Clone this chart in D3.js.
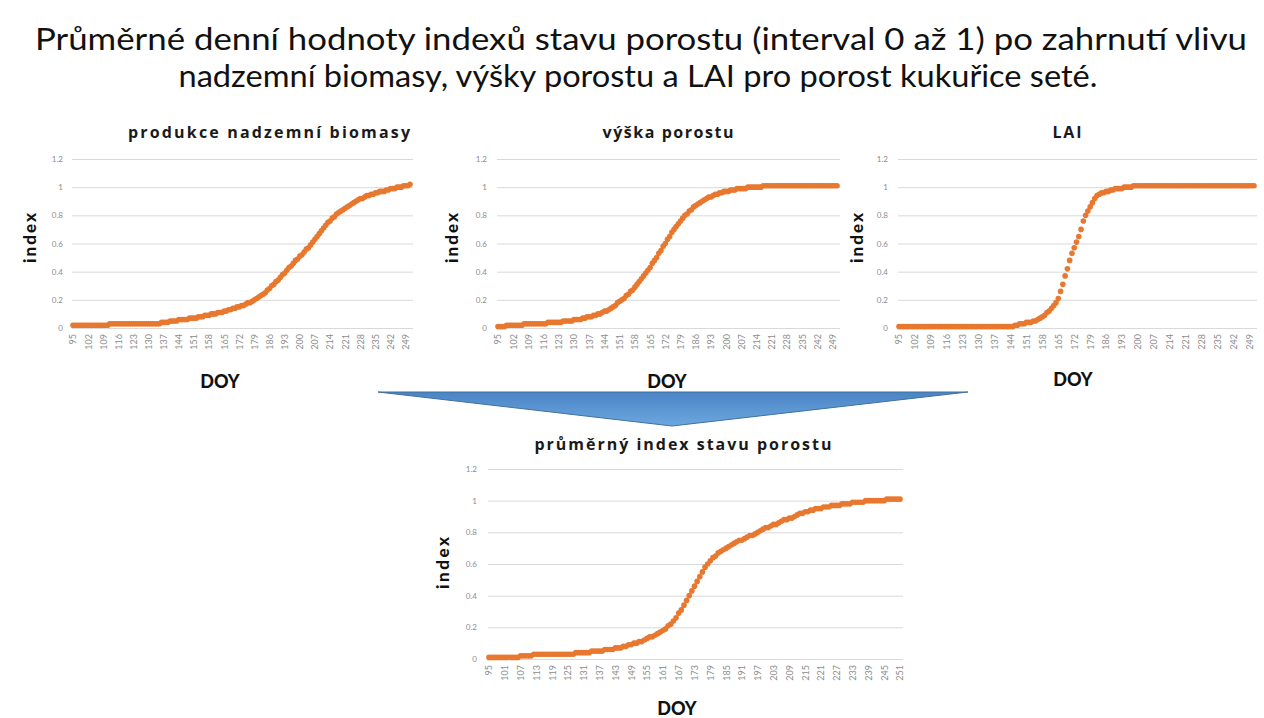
<!DOCTYPE html>
<html>
<head>
<meta charset="utf-8">
<script src="https://cdnjs.cloudflare.com/ajax/libs/d3/7.8.5/d3.min.js"></script>
<style>
  body { margin: 0; background: #fff; }
  text { font-family: Lato, "Open Sans", sans-serif; }
</style>
</head>
<body>
<div class="chart-wrapper"></div>
<script>
// DOY categories and tick labels
var doy = d3.range(95, 252);
var topTicks = [95, 102, 109, 116, 123, 130, 137, 144, 151, 158, 165, 172, 179, 186, 193, 200, 207, 214, 221, 228, 235, 242, 249];
var bottomTicks = [95, 101, 107, 113, 119, 125, 131, 137, 143, 149, 155, 161, 167, 173, 179, 185, 191, 197, 203, 209, 215, 221, 227, 233, 239, 245, 251];
var yTicks = [0, 0.2, 0.4, 0.6, 0.8, 1, 1.2];

// produkce nadzemni biomasy (DOY 95..251)
var biomasa = [
  0.02,0.02,0.02,0.02,0.02,0.02,0.02,
  0.02,0.02,0.02,0.02,0.02,0.02,0.02,
  0.02,0.02,0.02,0.03,0.03,0.03,0.03,
  0.03,0.03,0.03,0.03,0.03,0.03,0.03,
  0.03,0.03,0.03,0.03,0.03,0.03,0.03,
  0.03,0.03,0.03,0.03,0.03,0.03,0.04,
  0.04,0.04,0.04,0.05,0.05,0.05,0.05,
  0.06,0.06,0.06,0.06,0.06,0.07,0.07,
  0.07,0.07,0.08,0.08,0.08,0.09,0.09,
  0.09,0.10,0.10,0.10,0.11,0.11,0.11,
  0.12,0.12,0.13,0.13,0.14,0.14,0.15,
  0.15,0.16,0.16,0.17,0.18,0.18,0.19,
  0.20,0.21,0.22,0.23,0.24,0.25,0.27,
  0.28,0.30,0.31,0.33,0.34,0.36,0.38,
  0.39,0.41,0.43,0.44,0.46,0.48,0.49,
  0.51,0.52,0.54,0.56,0.57,0.59,0.61,
  0.63,0.65,0.67,0.69,0.71,0.73,0.75,
  0.76,0.78,0.79,0.81,0.82,0.83,0.84,
  0.85,0.86,0.87,0.88,0.89,0.90,0.91,
  0.92,0.92,0.93,0.94,0.94,0.95,0.95,
  0.96,0.96,0.97,0.97,0.97,0.98,0.98,
  0.99,0.99,0.99,1.00,1.00,1.00,1.01,
  1.01,1.01,1.02
];

// vyska porostu
var vyska = [
  0.01,0.01,0.01,0.01,0.02,0.02,0.02,
  0.02,0.02,0.02,0.02,0.02,0.03,0.03,
  0.03,0.03,0.03,0.03,0.03,0.03,0.03,
  0.03,0.03,0.04,0.04,0.04,0.04,0.04,
  0.04,0.04,0.05,0.05,0.05,0.05,0.05,
  0.06,0.06,0.06,0.06,0.07,0.07,0.08,
  0.08,0.08,0.09,0.09,0.10,0.10,0.11,
  0.12,0.12,0.13,0.14,0.15,0.16,0.18,
  0.19,0.20,0.21,0.23,0.24,0.26,0.27,
  0.29,0.31,0.33,0.35,0.37,0.39,0.41,
  0.43,0.46,0.48,0.50,0.53,0.55,0.58,
  0.60,0.63,0.65,0.68,0.70,0.72,0.74,
  0.76,0.78,0.80,0.81,0.83,0.84,0.86,
  0.87,0.88,0.89,0.90,0.91,0.92,0.93,
  0.93,0.94,0.95,0.95,0.96,0.96,0.97,
  0.97,0.97,0.98,0.98,0.98,0.99,0.99,
  0.99,0.99,0.99,1.00,1.00,1.00,1.00,
  1.00,1.00,1.00,1.01,1.01,1.01,1.01,
  1.01,1.01,1.01,1.01,1.01,1.01,1.01,
  1.01,1.01,1.01,1.01,1.01,1.01,1.01,
  1.01,1.01,1.01,1.01,1.01,1.01,1.01,
  1.01,1.01,1.01,1.01,1.01,1.01,1.01,
  1.01,1.01,1.01
];

// LAI
var lai = [
  0.01,0.01,0.01,0.01,0.01,0.01,0.01,
  0.01,0.01,0.01,0.01,0.01,0.01,0.01,
  0.01,0.01,0.01,0.01,0.01,0.01,0.01,
  0.01,0.01,0.01,0.01,0.01,0.01,0.01,
  0.01,0.01,0.01,0.01,0.01,0.01,0.01,
  0.01,0.01,0.01,0.01,0.01,0.01,0.01,
  0.01,0.01,0.01,0.01,0.01,0.01,0.01,
  0.01,0.01,0.02,0.02,0.03,0.03,0.03,
  0.04,0.04,0.04,0.05,0.05,0.06,0.07,
  0.08,0.09,0.11,0.12,0.14,0.16,0.18,
  0.21,0.26,0.31,0.37,0.42,0.48,0.53,
  0.57,0.61,0.65,0.70,0.76,0.80,0.83,
  0.86,0.89,0.92,0.94,0.95,0.96,0.96,
  0.97,0.97,0.98,0.98,0.99,0.99,0.99,
  0.99,1.00,1.00,1.00,1.00,1.01,1.01,
  1.01,1.01,1.01,1.01,1.01,1.01,1.01,
  1.01,1.01,1.01,1.01,1.01,1.01,1.01,
  1.01,1.01,1.01,1.01,1.01,1.01,1.01,
  1.01,1.01,1.01,1.01,1.01,1.01,1.01,
  1.01,1.01,1.01,1.01,1.01,1.01,1.01,
  1.01,1.01,1.01,1.01,1.01,1.01,1.01,
  1.01,1.01,1.01,1.01,1.01,1.01,1.01,
  1.01,1.01,1.01
];

// prumerny index stavu porostu
var prumer = [
  0.01,0.01,0.01,0.01,0.01,0.01,0.01,
  0.01,0.01,0.01,0.01,0.01,0.02,0.02,
  0.02,0.02,0.02,0.03,0.03,0.03,0.03,
  0.03,0.03,0.03,0.03,0.03,0.03,0.03,
  0.03,0.03,0.03,0.03,0.03,0.04,0.04,
  0.04,0.04,0.04,0.04,0.05,0.05,0.05,
  0.05,0.05,0.06,0.06,0.06,0.06,0.07,
  0.07,0.07,0.08,0.08,0.09,0.09,0.10,
  0.10,0.11,0.11,0.12,0.13,0.14,0.14,
  0.15,0.16,0.17,0.18,0.19,0.21,0.22,
  0.24,0.26,0.29,0.31,0.34,0.37,0.40,
  0.43,0.46,0.49,0.52,0.55,0.58,0.60,
  0.62,0.64,0.65,0.67,0.68,0.69,0.70,
  0.71,0.72,0.73,0.74,0.75,0.75,0.76,
  0.77,0.78,0.78,0.79,0.80,0.81,0.82,
  0.83,0.83,0.84,0.85,0.85,0.86,0.87,
  0.88,0.88,0.89,0.89,0.90,0.91,0.92,
  0.92,0.93,0.93,0.94,0.94,0.95,0.95,
  0.95,0.96,0.96,0.96,0.97,0.97,0.97,
  0.97,0.98,0.98,0.98,0.98,0.99,0.99,
  0.99,0.99,0.99,1.00,1.00,1.00,1.00,
  1.00,1.00,1.00,1.00,1.01,1.01,1.01,
  1.01,1.01,1.01
];

var svg = d3.select(".chart-wrapper").append("svg").attr("width", 1264).attr("height", 718);
svg.append("rect").attr("width", 1264).attr("height", 718).attr("fill", "#fff");

// main title, two lines
svg.append("text").attr("x", 641).attr("y", 50).attr("text-anchor", "middle")
  .attr("textLength", 1212).attr("lengthAdjust", "spacingAndGlyphs")
  .style("font-size", "31px").attr("fill", "#111")
  .text("Průměrné denní hodnoty indexů stavu porostu (interval 0 až 1) po zahrnutí vlivu");
svg.append("text").attr("x", 638).attr("y", 87).attr("text-anchor", "middle")
  .attr("textLength", 919).attr("lengthAdjust", "spacingAndGlyphs")
  .style("font-size", "31px").attr("fill", "#111")
  .text("nadzemní biomasy, výšky porostu a LAI pro porost kukuřice seté.");

// big arrow between top and bottom row
var defs = svg.append("defs");
var grad = defs.append("linearGradient").attr("id", "arrowFill").attr("x1", 0).attr("y1", 0).attr("x2", 0).attr("y2", 1);
grad.append("stop").attr("offset", "0%").attr("stop-color", "#4a84c6");
grad.append("stop").attr("offset", "100%").attr("stop-color", "#6da7df");
svg.append("path").attr("d", "M378,392 L968,392 L672,426 Z")
  .attr("fill", "url(#arrowFill)").attr("stroke", "#41719c").attr("stroke-width", 1);

var drawPanel = function(p) {
  var g = svg.append("g");
  var x = d3.scaleLinear().domain([95, 251]).range([p.x0, p.x1]);
  var y = d3.scaleLinear().domain([0, 1.2]).range([p.yb, p.yt]);

  // gridlines + y labels
  g.append("g").attr("transform", "translate(" + (p.x0 - 1) + ",0)")
    .call(d3.axisLeft(y).tickValues(yTicks).tickSize(-(p.x1 - p.x0 + 4)).tickPadding(p.pad).tickFormat(d3.format("")))
    .call(function(a) { a.select(".domain").remove(); })
    .call(function(a) { a.selectAll("line").attr("stroke", "#d9d9d9"); })
    .call(function(a) { a.selectAll("text").attr("fill", "#8c8c8c").style("font-size", "8px").style("font-family", "Lato, sans-serif"); });

  // x labels, rotated
  g.append("g").attr("transform", "translate(0," + p.yb + ")")
    .call(d3.axisBottom(x).tickValues(p.ticks).tickSize(0).tickFormat(d3.format("d")))
    .call(function(a) { a.select(".domain").remove(); })
    .selectAll("text")
      .attr("transform", "rotate(-90)").attr("text-anchor", "end")
      .attr("x", -6).attr("y", 0).attr("dy", "0.32em")
      .attr("fill", "#8c8c8c").style("font-size", "9px").style("font-family", "Lato, sans-serif");

  // markers
  g.append("g").selectAll("circle").data(p.values).enter().append("circle")
    .attr("cx", function(d, i) { return x(doy[i]); })
    .attr("cy", function(d) { return y(d); })
    .attr("r", 2.8)
    .attr("fill", "#e8782f");

  // titles
  g.append("text").attr("x", p.tx).attr("y", p.ty).attr("text-anchor", "middle")
    .attr("textLength", p.tw).style("font-family", "'Open Sans', sans-serif")
    .style("font-size", "16px").style("font-weight", "bold").attr("fill", "#1a1a1a")
    .text(p.title);
  g.append("text").attr("transform", "translate(" + p.ix + "," + p.iy + ") rotate(-90)")
    .attr("text-anchor", "middle").attr("dy", "0.35em").attr("textLength", p.iw)
    .style("font-size", "17px").style("font-weight", "900").attr("fill", "#111").text("index");
  g.append("text").attr("x", p.dx).attr("y", p.dy).attr("text-anchor", "middle")
    .style("font-size", "18px").style("font-weight", "900").attr("fill", "#111").text("DOY");
}; // end drawPanel

drawPanel({ x0: 73, x1: 410, yt: 159, yb: 328, pad: 9, ticks: topTicks, values: biomasa,
  title: "produkce nadzemní biomasy", tx: 269, ty: 138, tw: 282, ix: 30, iy: 238, iw: 50, dx: 220, dy: 388 });
drawPanel({ x0: 498, x1: 837, yt: 159, yb: 328, pad: 10, ticks: topTicks, values: vyska,
  title: "výška porostu", tx: 668, ty: 138, tw: 131, ix: 452, iy: 238, iw: 50, dx: 667, dy: 388 });
drawPanel({ x0: 899, x1: 1254, yt: 159, yb: 328, pad: 10, ticks: topTicks, values: lai,
  title: "LAI", tx: 1067, ty: 138, tw: 29, ix: 857, iy: 238, iw: 50, dx: 1073, dy: 386 });
drawPanel({ x0: 489, x1: 900, yt: 469, yb: 659, pad: 11, ticks: bottomTicks, values: prumer,
  title: "průměrný index stavu porostu", tx: 683, ty: 450, tw: 297, ix: 443, iy: 563, iw: 52, dx: 677, dy: 715 });
</script>
</body>
</html>
